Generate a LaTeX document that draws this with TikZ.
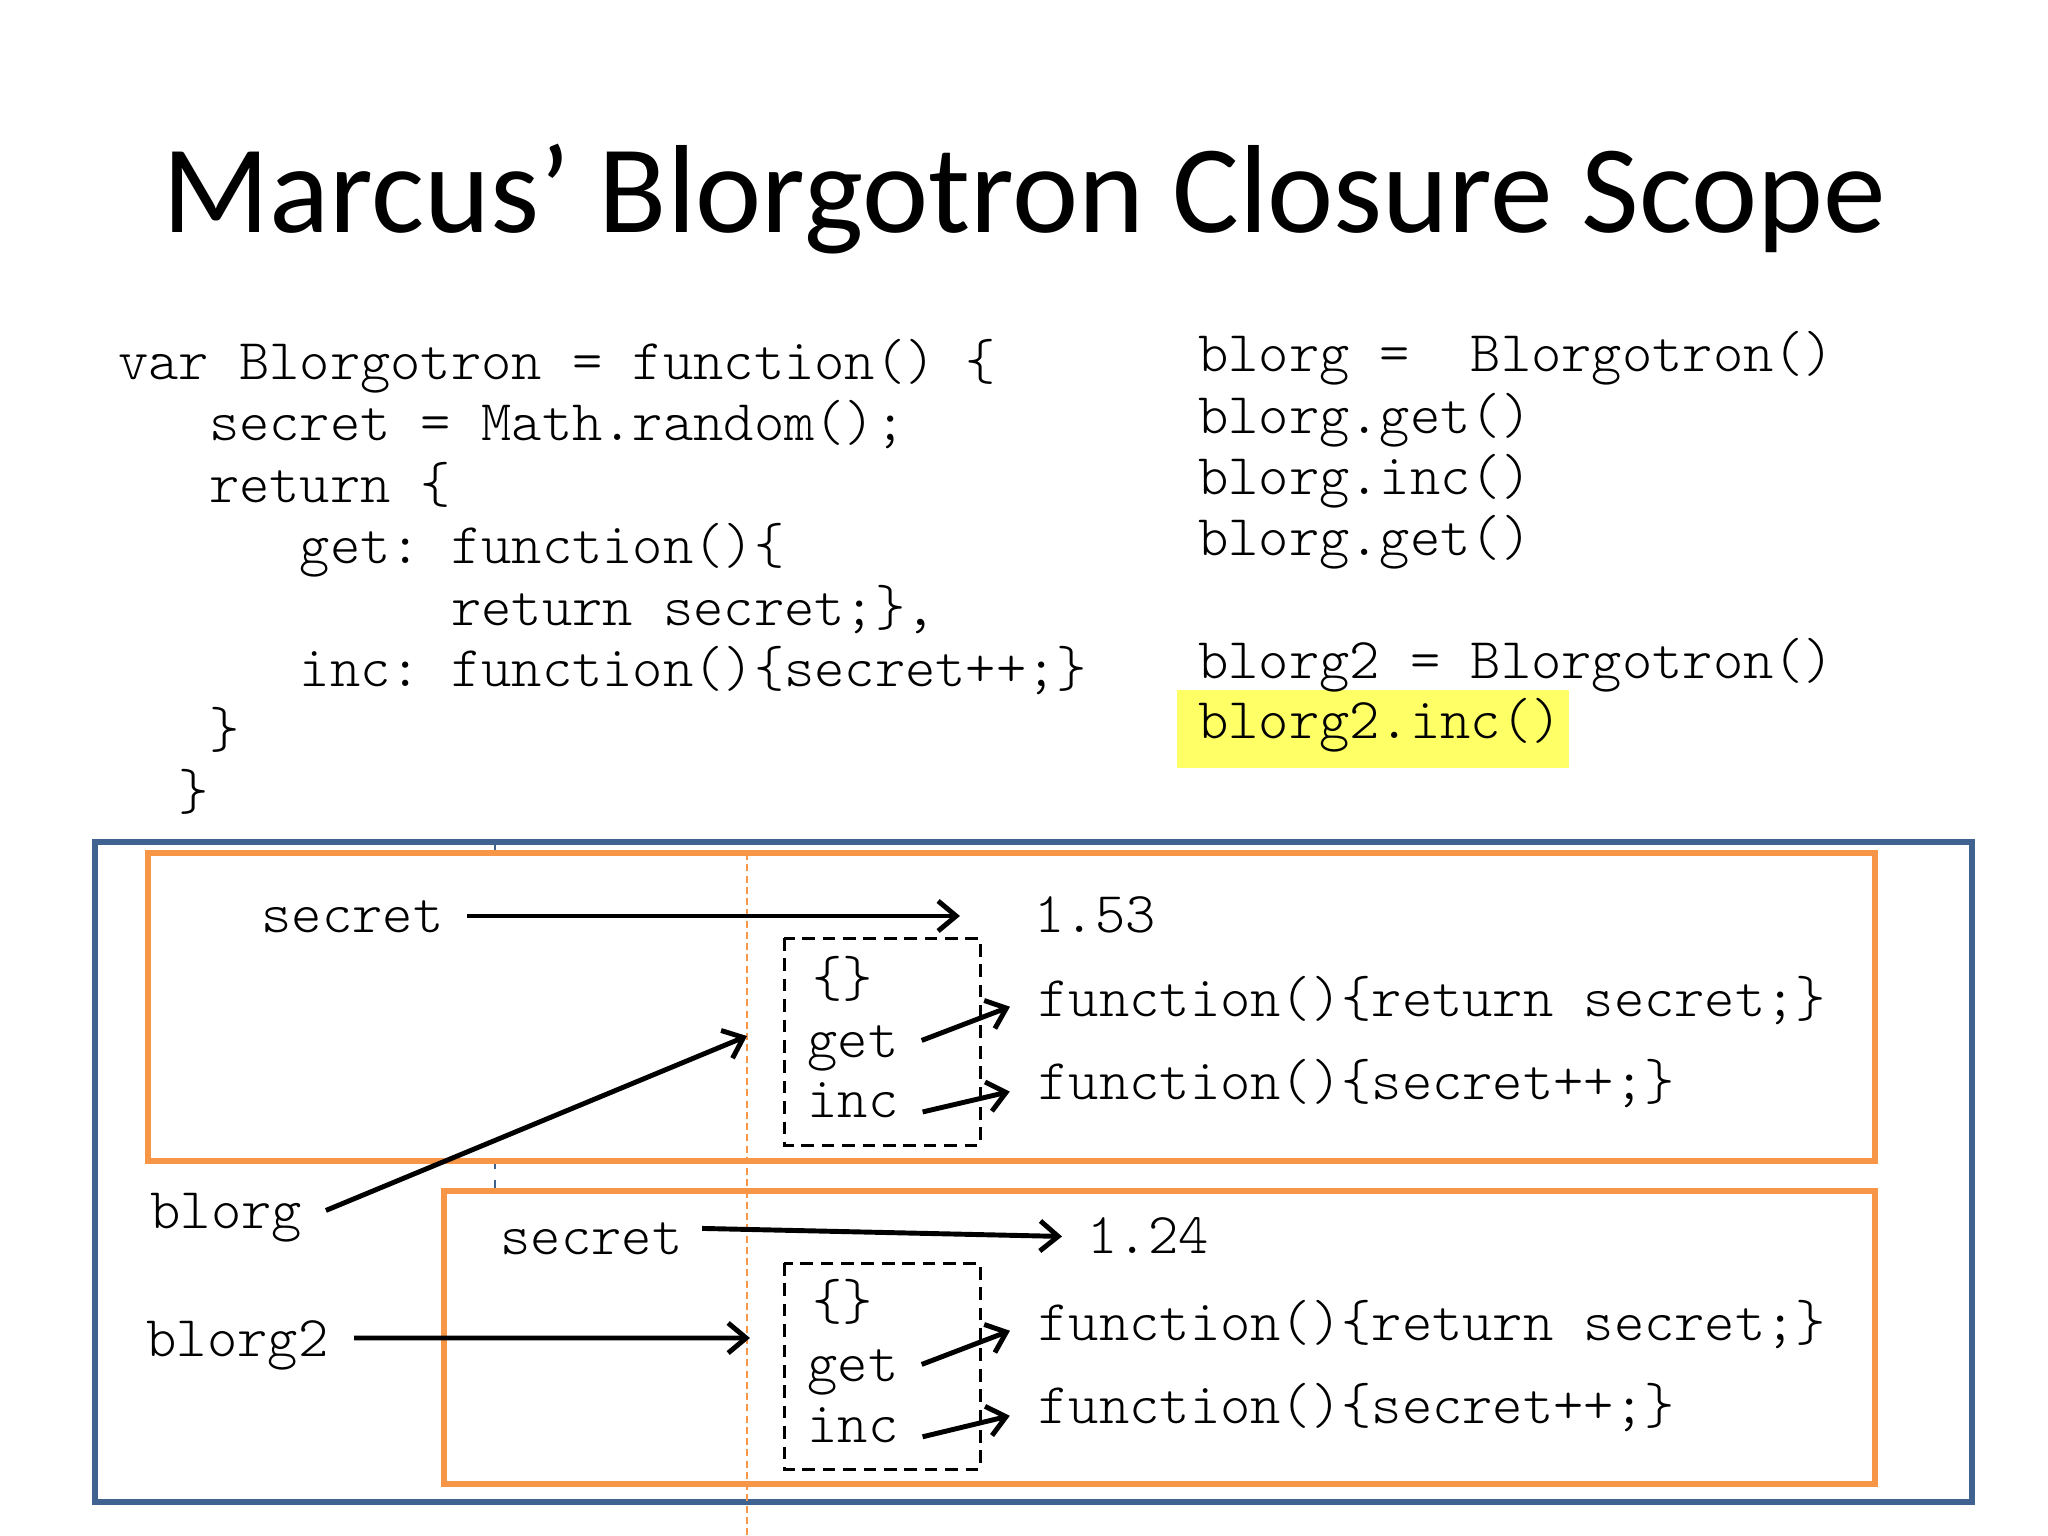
\documentclass[tikz,border=0pt]{standalone}
\usepackage{fontspec}
\setmainfont{Carlito}
\newfontfamily\codefont{lmmonolt10-regular}[Extension=.otf]
\usetikzlibrary{arrows.meta}

\definecolor{frameblue}{HTML}{3F6290}
\definecolor{scopeorange}{HTML}{F79646}
\definecolor{hl}{HTML}{FFFF66}

\tikzset{
  code/.style={anchor=mid west, inner sep=0pt,
    font=\codefont\fontsize{16.4}{19}\selectfont\frenchspacing},
  ptr/.style={-{Straight Barb[length=1.8mm,width=3mm]}, line width=1.4pt},
  scopebox/.style={draw=scopeorange, line width=1.5pt, fill=white},
  objbox/.style={draw, line width=0.85pt, dash pattern=on 3.6pt off 2.2pt},
}

\begin{document}
\begin{tikzpicture}[x=0.01cm, y=-0.01cm]
  \useasboundingbox (0,0) rectangle (2048,1536);
  \node[anchor=base, font=\fontsize{35.65}{43}\selectfont] (title) at (1024,232)
    {Marcus’ Blorgotron Closure Scope};

  % the function
  \node[code] (l1) at (117.5,371) {var Blorgotron = function() \{};
  \node[code] (l2) at (117.5,432) {~~~secret = Math.random();};
  \node[code] (l3) at (117.5,494) {~~~return \{};
  \node[code] (l4) at (117.5,555) {~~~~~~get: function()\{};
  \node[code] (l5) at (117.5,617) {~~~~~~~~~~~return secret;\},};
  \node[code] (l6) at (117.5,678) {~~~~~~inc: function()\{secret++;\}};
  \node[code] (l7) at (117.5,739) {~~~\}};
  \node[code] (l8) at (117.5,801) {~~\}};

  % the calls
  \fill[hl] (1177,690) rectangle (1569,768);
  \node[code] (c1) at (1197.6,363) {blorg =~~Blorgotron()};
  \node[code] (c2) at (1197.6,425) {blorg.get()};
  \node[code] (c3) at (1197.6,486) {blorg.inc()};
  \node[code] (c4) at (1197.6,547) {blorg.get()};
  \node[code] (c5) at (1197.6,670) {blorg2 = Blorgotron()};
  \node[code] (c6) at (1197.6,730) {blorg2.inc()};

  % scopes
  \draw[frameblue, line width=0.4pt, dashed] (495,842) -- (495,1300);
  \draw[frameblue, line width=1.5pt] (95,842) rectangle (1972,1502);
  \draw[scopebox] (148,853) rectangle (1875,1161);
  \draw[scopebox] (444,1191) rectangle (1875,1484);
  \draw[scopeorange, line width=0.7pt, dash pattern=on 2pt off 1.2pt] (747,853) -- (747,1536);
  \draw[objbox] (784,938) rectangle (980,1145);
  \draw[objbox] (784,1263) rectangle (980,1469);

  % first closure
  \node[code] (sec1) at (261,924) {secret};
  \node[code] (val1) at (1034,924) {1.53};
  \node[code] (br1) at (812,988) {\{\}};
  \node[code] (get1) at (807,1049) {get};
  \node[code] (inc1) at (807,1109) {inc};
  \node[code] (fget1) at (1038,1008) {function()\{return secret;\}};
  \node[code] (finc1) at (1038,1091) {function()\{secret++;\}};

  % second closure
  \node[code] (sec2) at (500,1246) {secret};
  \node[code] (val2) at (1087,1245) {1.24};
  \node[code] (br2) at (812,1311) {\{\}};
  \node[code] (get2) at (807,1373) {get};
  \node[code] (inc2) at (807,1434) {inc};
  \node[code] (fget2) at (1038,1332) {function()\{return secret;\}};
  \node[code] (finc2) at (1038,1415) {function()\{secret++;\}};

  \node[code] (blorg) at (150,1220) {blorg};
  \node[code] (blorgb) at (146,1348) {blorg2};
  \coordinate (o1) at (747,1036);
  \coordinate (o2) at (750,1338);

  \draw[ptr, shorten <=2.3mm, shorten >=7.4mm] ([yshift=0.8mm]sec1.mid east) -- ([yshift=0.8mm]val1.mid west);
  \draw[ptr, shorten <=1.9mm, shorten >=2.5mm] ([yshift=1.8mm]sec2.mid east) -- ([yshift=0.8mm]val2.mid west);
  \draw[ptr, shorten <=2.4mm, shorten >=3mm] (get1.mid east) -- ([yshift=1.2mm]fget1.mid west);
  \draw[ptr, shorten <=2.4mm, shorten >=2.9mm] (inc1.base east) -- ([yshift=0.6mm]finc1.mid west);
  \draw[ptr, shorten <=2.4mm, shorten >=3mm] (get2.mid east) -- ([yshift=1.2mm]fget2.mid west);
  \draw[ptr, shorten <=2.4mm, shorten >=2.9mm] (inc2.base east) -- ([yshift=0.6mm]finc2.mid west);
  \draw[ptr, shorten <=2.5mm] (blorg.mid east) -- (o1);
  \draw[ptr, shorten <=2.5mm] ([yshift=1mm]blorgb.mid east) -- (o2);
\end{tikzpicture}
\end{document}
